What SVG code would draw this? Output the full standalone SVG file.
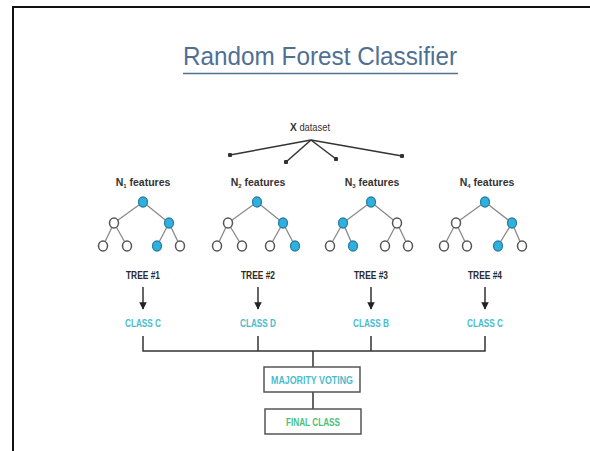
<svg xmlns="http://www.w3.org/2000/svg" width="590" height="451" viewBox="0 0 590 451">
<defs>
<style>
.title{font-family:"Liberation Sans",Arial,sans-serif;font-size:25px;fill:#4f7094}
.lbl{font-family:"Liberation Sans",Arial,sans-serif;font-size:11px;font-weight:bold;fill:#2b2b2b;text-anchor:middle}
.feat{font-family:"Liberation Sans",Arial,sans-serif;font-size:10.5px;font-weight:bold;fill:#333;text-anchor:middle}
.cls{font-family:"Liberation Sans",Arial,sans-serif;font-size:11px;font-weight:bold;fill:#4bbccc;text-anchor:middle}
.fin{font-family:"Liberation Sans",Arial,sans-serif;font-size:11px;font-weight:bold;fill:#4cc27a;text-anchor:middle}
.edge{stroke:#8a8a8a;stroke-width:1.3;fill:none}
.node{fill:#fff;stroke:#555;stroke-width:1.5}
.on{fill:#2fb0de;stroke:#2a7ea3;stroke-width:1.3}
.conn{stroke:#333;stroke-width:1.5;fill:none}
.box{fill:#fff;stroke:#555;stroke-width:1.5}
</style>
<marker id="ah" viewBox="0 0 10 10" refX="9" refY="5" markerWidth="5" markerHeight="5" orient="auto">
<path d="M0,0 L10,5 L0,10 z" fill="#222"/>
</marker>
<marker id="dot" viewBox="0 0 10 10" refX="5" refY="5" markerWidth="3" markerHeight="3">
<circle cx="5" cy="5" r="5" fill="#333"/>
</marker>
</defs>
<rect width="590" height="451" fill="#fff"/>
<path d="M13,451 V7 H590" stroke="#111" stroke-width="2" fill="none"/>

<g id="title">
<text class="title" x="320" y="65" text-anchor="middle" textLength="274" lengthAdjust="spacingAndGlyphs">Random Forest Classifier</text>
<line x1="183" y1="73.5" x2="458" y2="73.5" stroke="#4f7094" stroke-width="1.6"/>
</g>

<g id="dataset">
<text class="feat" x="310" y="131" textLength="40" lengthAdjust="spacingAndGlyphs"><tspan font-size="11.5">X</tspan><tspan font-weight="normal"> dataset</tspan></text>
</g>

<g id="connectors">
<line class="conn" x1="311" y1="140" x2="230" y2="155" marker-end="url(#dot)"/>
<line class="conn" x1="311" y1="140" x2="286" y2="162" marker-end="url(#dot)"/>
<line class="conn" x1="311" y1="140" x2="336" y2="159" marker-end="url(#dot)"/>
<line class="conn" x1="311" y1="140" x2="402" y2="156" marker-end="url(#dot)"/>
<line class="conn" x1="143" y1="287" x2="143" y2="309" marker-end="url(#ah)"/>
<line class="conn" x1="258" y1="287" x2="258" y2="309" marker-end="url(#ah)"/>
<line class="conn" x1="371" y1="287" x2="371" y2="309" marker-end="url(#ah)"/>
<line class="conn" x1="485" y1="287" x2="485" y2="309" marker-end="url(#ah)"/>
<path class="conn" d="M143,336 V351 H485 V336 M258,336 V351 M371,336 V351 M313,351 V367 M313,392 V409"/>
</g>

<g id="tree1">
<text class="feat" x="143" y="186">N<tspan font-size="6" dy="2">1</tspan><tspan dy="-2"> features</tspan></text>
<path class="edge" d="M143,202 L114,223 M143,202 L169,223 M114,223 L103,246 M114,223 L127,246 M169,223 L157,246 M169,223 L180,246"/>
<ellipse class="on" cx="143" cy="202" rx="4.5" ry="5"/>
<ellipse class="node" cx="114" cy="223" rx="4.5" ry="5"/>
<ellipse class="on" cx="169" cy="223" rx="4.5" ry="5"/>
<ellipse class="node" cx="103" cy="246" rx="4.5" ry="5"/>
<ellipse class="node" cx="127" cy="246" rx="4.5" ry="5"/>
<ellipse class="on" cx="157" cy="246" rx="4.5" ry="5"/>
<ellipse class="node" cx="180" cy="246" rx="4.5" ry="5"/>
<text class="lbl" x="143" y="279" textLength="34" lengthAdjust="spacingAndGlyphs">TREE #1</text>
<text class="cls" x="143" y="327" textLength="36" lengthAdjust="spacingAndGlyphs">CLASS C</text>
</g>

<g id="tree2">
<text class="feat" x="258" y="186">N<tspan font-size="6" dy="2">2</tspan><tspan dy="-2"> features</tspan></text>
<path class="edge" d="M257,202 L228,223 M257,202 L283,223 M228,223 L217,246 M228,223 L242,246 M283,223 L270,246 M283,223 L295,246"/>
<ellipse class="on" cx="257" cy="202" rx="4.5" ry="5"/>
<ellipse class="node" cx="228" cy="223" rx="4.5" ry="5"/>
<ellipse class="on" cx="283" cy="223" rx="4.5" ry="5"/>
<ellipse class="node" cx="217" cy="246" rx="4.5" ry="5"/>
<ellipse class="node" cx="242" cy="246" rx="4.5" ry="5"/>
<ellipse class="node" cx="270" cy="246" rx="4.5" ry="5"/>
<ellipse class="on" cx="295" cy="246" rx="4.5" ry="5"/>
<text class="lbl" x="258" y="279" textLength="34" lengthAdjust="spacingAndGlyphs">TREE #2</text>
<text class="cls" x="258" y="327" textLength="36" lengthAdjust="spacingAndGlyphs">CLASS D</text>
</g>

<g id="tree3">
<text class="feat" x="372" y="186">N<tspan font-size="6" dy="2">3</tspan><tspan dy="-2"> features</tspan></text>
<path class="edge" d="M371,202 L343,223 M371,202 L397,223 M343,223 L330,246 M343,223 L353,246 M397,223 L385,246 M397,223 L408,246"/>
<ellipse class="on" cx="371" cy="202" rx="4.5" ry="5"/>
<ellipse class="on" cx="343" cy="223" rx="4.5" ry="5"/>
<ellipse class="node" cx="397" cy="223" rx="4.5" ry="5"/>
<ellipse class="node" cx="330" cy="246" rx="4.5" ry="5"/>
<ellipse class="on" cx="353" cy="246" rx="4.5" ry="5"/>
<ellipse class="node" cx="385" cy="246" rx="4.5" ry="5"/>
<ellipse class="node" cx="408" cy="246" rx="4.5" ry="5"/>
<text class="lbl" x="371" y="279" textLength="34" lengthAdjust="spacingAndGlyphs">TREE #3</text>
<text class="cls" x="371" y="327" textLength="36" lengthAdjust="spacingAndGlyphs">CLASS B</text>
</g>

<g id="tree4">
<text class="feat" x="487" y="186">N<tspan font-size="6" dy="2">4</tspan><tspan dy="-2"> features</tspan></text>
<path class="edge" d="M485,202 L456,223 M485,202 L512,223 M456,223 L444,246 M456,223 L467,246 M512,223 L498,246 M512,223 L522,246"/>
<ellipse class="on" cx="485" cy="202" rx="4.5" ry="5"/>
<ellipse class="node" cx="456" cy="223" rx="4.5" ry="5"/>
<ellipse class="on" cx="512" cy="223" rx="4.5" ry="5"/>
<ellipse class="node" cx="444" cy="246" rx="4.5" ry="5"/>
<ellipse class="node" cx="467" cy="246" rx="4.5" ry="5"/>
<ellipse class="on" cx="498" cy="246" rx="4.5" ry="5"/>
<ellipse class="node" cx="522" cy="246" rx="4.5" ry="5"/>
<text class="lbl" x="485" y="279" textLength="34" lengthAdjust="spacingAndGlyphs">TREE #4</text>
<text class="cls" x="485" y="327" textLength="36" lengthAdjust="spacingAndGlyphs">CLASS C</text>
</g>

<g id="majority">
<rect class="box" x="264" y="367" width="96" height="25"/>
<text class="cls" x="312" y="383.5" textLength="82" lengthAdjust="spacingAndGlyphs">MAJORITY VOTING</text>
</g>

<g id="final">
<rect class="box" x="265" y="409" width="96" height="25"/>
<text class="fin" x="313" y="425.5" textLength="54" lengthAdjust="spacingAndGlyphs">FINAL CLASS</text>
</g>
</svg>
